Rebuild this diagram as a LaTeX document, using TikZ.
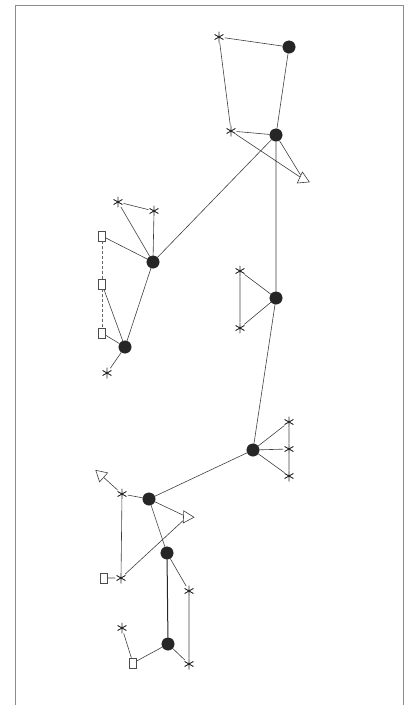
\documentclass[tikz,border=0pt]{standalone}
\usetikzlibrary{shapes.geometric}
\tikzset{
  edge/.style={draw=black!75, line width=0.6pt},
  dot/.style={circle, fill=black!85, draw=black!85, inner sep=0pt, minimum size=12.5pt},
  astk/.style={circle, inner sep=0pt, minimum size=11pt,
    path picture={
      \draw[black!85, line width=0.9pt]
        (path picture bounding box.north) -- (path picture bounding box.south)
        ([shift={(-4.8pt,2.75pt)}]path picture bounding box.center) -- ([shift={(4.8pt,-2.75pt)}]path picture bounding box.center)
        ([shift={(-4.8pt,-2.75pt)}]path picture bounding box.center) -- ([shift={(4.8pt,2.75pt)}]path picture bounding box.center);
    }},
  sq/.style={rectangle, draw=black!70, fill=white, line width=0.6pt, inner sep=0pt, minimum width=7pt, minimum height=10pt},
  tri/.style={regular polygon, regular polygon sides=3, draw=black!75, fill=white, line width=0.6pt, inner sep=0pt, minimum size=14pt}
}
\begin{document}
\begin{tikzpicture}[x=1pt,y=-1pt]
\useasboundingbox (0,0) rectangle (407,705);
\draw[black!45, line width=0.8pt] (15,708) -- (15,5) -- (403,5) -- (403,708);
% nodes
\node[astk] (A) at (219,37) {};
\node[dot] (B) at (289,47) {};
\node[astk] (C) at (231,131) {};
\node[dot] (D) at (276,135) {};
\node[tri, shape border rotate=-115] (E) at (303,179) {};
\node[astk] (F) at (118,202) {};
\node[astk] (G) at (154,211) {};
\node[sq] (H) at (102,236) {};
\node[dot] (I) at (153,262) {};
\node[sq] (J) at (102,284) {};
\node[sq] (K) at (102,333) {};
\node[dot] (L) at (125,347) {};
\node[astk] (M) at (107,373) {};
\node[astk] (N) at (240,271) {};
\node[astk] (O) at (240,328) {};
\node[dot] (P) at (276,298) {};
\node[dot] (Q) at (253,450) {};
\node[astk] (R) at (289,422) {};
\node[astk] (S) at (289,449) {};
\node[astk] (T) at (289,476) {};
\node[tri, shape border rotate=48] (V) at (101,475) {};
\node[astk] (W) at (122,494) {};
\node[dot] (U) at (149,499) {};
\node[tri, shape border rotate=-92] (X) at (187,517) {};
\node[dot] (Y) at (167,553) {};
\node[sq] (Z) at (104,578) {};
\node[astk] (AA) at (121,578) {};
\node[astk] (BB) at (189,591) {};
\node[astk] (CC) at (122,628) {};
\node[dot] (DD) at (168,644) {};
\node[sq] (EE) at (133,663) {};
\node[astk] (FF) at (189,664) {};
% edges
\path[edge] (A) -- (B) (A) -- (C) (B) -- (D) (C) -- (D) (C) -- (E) (D) -- (E)
  (D) -- (I) (D) -- (P)
  (F) -- (G) (F) -- (I) (G) -- (I) (H) -- (I) (I) -- (L) (J) -- (L) (K) -- (L) (L) -- (M)
  (N) -- (O) (N) -- (P) (O) -- (P) (P) -- (Q)
  (Q) -- (R) (Q) -- (S) (Q) -- (T) (R) -- (S) (S) -- (T) (Q) -- (U)
  (V) -- (W) (W) -- (U) (U) -- (X) (U) -- (Y) (W) -- (AA) (Z) -- (AA) (AA) -- (X)
  (Y) -- (BB) (BB) -- (FF) (DD) -- (FF) (DD) -- (EE) (EE) -- (CC);
\draw[black!85, line width=1pt] (Y) -- (DD);
\draw[black!60, line width=0.6pt, dash pattern=on 3pt off 2pt] (H) -- (J) (J) -- (K);
\end{tikzpicture}
\end{document}
